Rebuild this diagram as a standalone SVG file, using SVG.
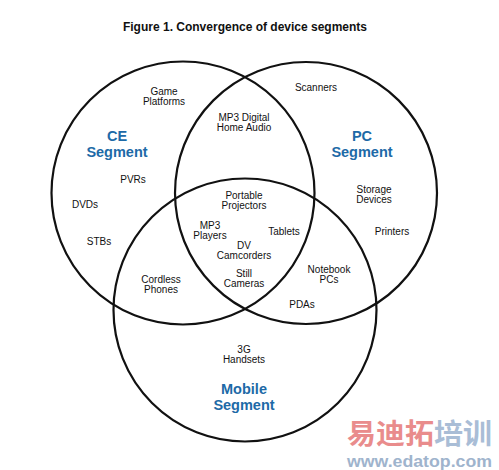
<svg xmlns="http://www.w3.org/2000/svg" width="499" height="470" viewBox="0 0 499 470">
<style>
.c{fill:none;stroke:#111;stroke-width:2.2}
.t{font-family:"Liberation Sans",Arial,sans-serif;font-size:10px;fill:#111;text-anchor:middle}
.s{font-family:"Liberation Sans",Arial,sans-serif;font-size:14.5px;font-weight:bold;fill:#1d6aa7;text-anchor:middle}
.h{font-family:"Liberation Sans",Arial,sans-serif;font-size:12px;font-weight:bold;fill:#111;text-anchor:middle}
</style>
<rect width="499" height="470" fill="#fff"/>
<text class="h" x="245" y="31">Figure 1. Convergence of device segments</text>
<g id="connectors"></g>
<g id="ce"><circle class="c" cx="183" cy="193" r="131.5"/>
<text class="s" x="117" y="141">CE</text><text class="s" x="117" y="157">Segment</text></g>
<g id="pc"><circle class="c" cx="306" cy="193" r="131"/>
<text class="s" x="362" y="141">PC</text><text class="s" x="362" y="157">Segment</text></g>
<g id="mobile"><circle class="c" cx="245" cy="310" r="131.5"/>
<text class="s" x="244" y="394">Mobile</text><text class="s" x="244" y="410">Segment</text></g>
<g id="labels">
<text class="t" x="164" y="95">Game</text><text class="t" x="164" y="105">Platforms</text>
<text class="t" x="316" y="91">Scanners</text>
<text class="t" x="244" y="121">MP3 Digital</text><text class="t" x="244" y="131">Home Audio</text>
<text class="t" x="133" y="183">PVRs</text>
<text class="t" x="85" y="208">DVDs</text>
<text class="t" x="99" y="245">STBs</text>
<text class="t" x="244" y="199">Portable</text><text class="t" x="244" y="209">Projectors</text>
<text class="t" x="374" y="193">Storage</text><text class="t" x="374" y="203">Devices</text>
<text class="t" x="210" y="229">MP3</text><text class="t" x="210" y="239">Players</text>
<text class="t" x="284" y="235">Tablets</text>
<text class="t" x="392" y="235">Printers</text>
<text class="t" x="244" y="249">DV</text><text class="t" x="244" y="259">Camcorders</text>
<text class="t" x="161" y="283">Cordless</text><text class="t" x="161" y="293">Phones</text>
<text class="t" x="244" y="277">Still</text><text class="t" x="244" y="287">Cameras</text>
<text class="t" x="329" y="273">Notebook</text><text class="t" x="329" y="283">PCs</text>
<text class="t" x="302" y="308">PDAs</text>
<text class="t" x="244" y="353">3G</text><text class="t" x="244" y="363">Handsets</text>
</g>
<g id="watermark" font-family="'Noto Sans CJK SC',sans-serif" font-weight="bold">
<text x="347" y="444" font-size="28" fill="#e98c8c" textLength="145" lengthAdjust="spacingAndGlyphs">易迪拓<tspan fill="#a9bdd6">培训</tspan></text>
<text x="347" y="467" font-size="17" fill="#9fb4cd" textLength="145" lengthAdjust="spacingAndGlyphs" font-family="'Liberation Sans',Arial,sans-serif">www.edatop.com</text>
</g>
</svg>
